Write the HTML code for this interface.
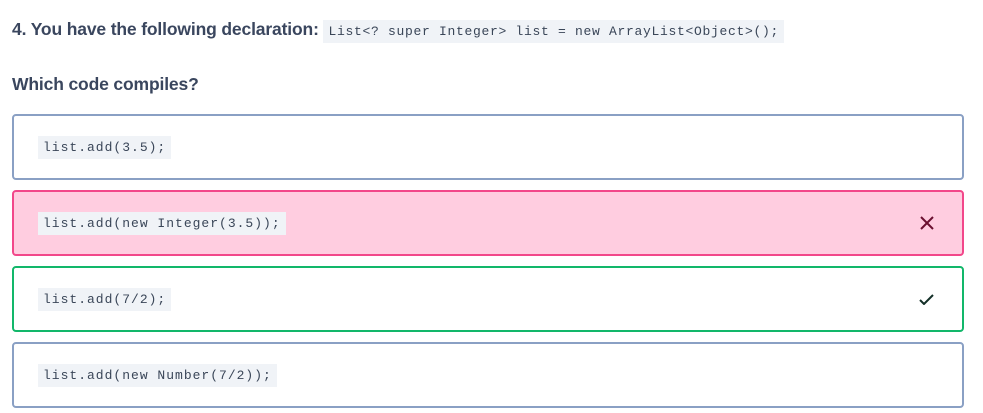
<!DOCTYPE html>
<html><head><style>
body{margin:0;background:#fff;width:983px;height:413px;position:relative;font-family:"Liberation Sans",sans-serif;color:#2d3b55;overflow:hidden}
.t{position:absolute;left:12px;font-size:17.5px;font-weight:bold;letter-spacing:-0.15px;color:#3a465e}
.t code{font-weight:normal;letter-spacing:0.7px}
code{font-family:"Liberation Mono",monospace;font-size:13px;background:#f0f3f7;color:#3a4658;padding:4px 5px;letter-spacing:1px}
.b{position:absolute;left:12px;width:948px;height:62px;border:2px solid #8aa0c4;border-radius:4px;box-sizing:content-box}
.b code{position:absolute;left:24px;top:20px}
.ic{position:absolute;right:28px;top:18px;font-size:20px}
</style></head><body>
<div class="t" style="top:19px">4. You have the following declaration: <code>List&lt;? super Integer&gt; list = new ArrayList&lt;Object&gt;();</code></div>
<div class="t" style="top:74px">Which code compiles?</div>
<div class="b" style="top:114px"><code>list.add(3.5);</code></div>
<div class="b" style="top:190px;background:#ffcde0;border-color:#f2478a"><code>list.add(new Integer(3.5));</code>
<svg class="ic" style="top:24px" width="14" height="14" viewBox="0 0 14 14"><path d="M1 1L13 13M13 1L1 13" stroke="#6b1030" stroke-width="2"/></svg></div>
<div class="b" style="top:266px;border-color:#12b76a"><code>list.add(7/2);</code>
<svg class="ic" style="top:26px" width="15" height="11" viewBox="0 0 15 11"><path d="M1 6L5 10L14 1" stroke="#143028" stroke-width="2" fill="none"/></svg></div>
<div class="b" style="top:342px"><code>list.add(new Number(7/2));</code></div>
</body></html>
